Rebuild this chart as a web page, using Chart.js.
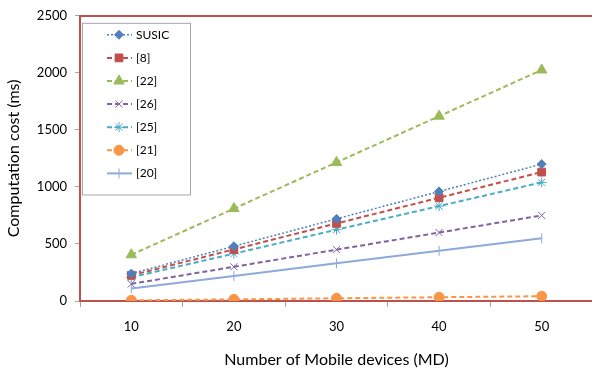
<!DOCTYPE html>
<html>
<head>
<meta charset="utf-8">
<script src="https://cdn.jsdelivr.net/npm/chart.js@4.4.1/dist/chart.umd.min.js"></script>
<style>
  html, body { margin: 0; padding: 0; overflow: hidden; background: #fff; }
  #wrap { width: 600px; height: 373px; }
</style>
</head>
<body>
<div id="wrap"><canvas id="chart_cost" width="600" height="373"></canvas></div>
<script>
// categories (number of mobile devices)
var devices = ['10', '20', '30', '40', '50'];

// computation cost (ms) per scheme
var susic = [240, 480, 720, 960, 1200];
var ref8  = [225, 452, 680, 905, 1130];
var ref22 = [405, 810, 1215, 1620, 2025];
var ref26 = [150, 300, 450, 600, 750];
var ref25 = [208, 415, 625, 832, 1040];
var ref21 = [6, 14, 24, 33, 42];
var ref20 = [110, 220, 330, 440, 550];

var yTicks = [0, 500, 1000, 1500, 2000, 2500];

var FONT = 'Lato, "Open Sans", sans-serif';
var FRAME = '#c0504d';

function series(label, data, color, style, radius, dash, width, rotation) {
    return {
        label: label,
        data: data,
        borderColor: color,
        backgroundColor: color,
        borderWidth: width,
        borderDash: dash,
        pointStyle: style,
        pointRadius: radius,
        pointRotation: rotation || 0,
        pointBorderWidth: 1,
        pointHoverRadius: radius,
        tension: 0,
        fill: false
    };
}

// legend box drawn inside the plot, like the Excel original
var boxLegend = {
    id: 'boxLegend',
    afterDatasetsDraw: (chart) => {
        const ctx = chart.ctx;
        const area = chart.chartArea;
        const x0 = area.left + 2, y0 = area.top + 7;
        const w = 108, step = 23.1;
        const sets = chart.data.datasets;
        const h = sets.length * step + 10;
        ctx.save();
        ctx.fillStyle = '#fff';
        ctx.fillRect(x0, y0, w, h);
        ctx.strokeStyle = '#a6a6a6';
        ctx.lineWidth = 1;
        ctx.strokeRect(x0 + 0.5, y0 + 0.5, w, h);
        sets.forEach((ds, i) => {
            const y = y0 + 12 + i * step;
            ctx.strokeStyle = ds.borderColor;
            ctx.lineWidth = ds.borderWidth;
            ctx.setLineDash(ds.borderDash || []);
            ctx.beginPath();
            ctx.moveTo(x0 + 25, y);
            ctx.lineTo(x0 + 50, y);
            ctx.stroke();
            ctx.setLineDash([]);
            ctx.fillStyle = ds.backgroundColor;
            ctx.strokeStyle = ds.borderColor;
            ctx.lineWidth = 1;
            Chart.helpers.drawPoint(ctx, {
                pointStyle: ds.pointStyle,
                radius: ds.pointRadius,
                rotation: ds.pointRotation,
                borderWidth: 1
            }, x0 + 37, y);
            ctx.fillStyle = '#000';
            ctx.font = '12px ' + FONT;
            ctx.textBaseline = 'middle';
            ctx.fillText(ds.label, x0 + 54, y);
        });
        ctx.restore();
    }
};

var chart_cost = new Chart(document.getElementById('chart_cost'), {
    type: 'line',
    data: {
        labels: devices,
        datasets: [
            series('SUSIC', susic, '#4f81bd', 'rectRot', 4.5, [2, 2], 1.5),
            series('[8]', ref8, '#c0504d', 'rect', 5.5, [5, 3], 2),
            series('[22]', ref22, '#9bbb59', 'triangle', 6, [5, 3], 2),
            series('[26]', ref26, '#8064a2', 'crossRot', 5, [5, 3], 2),
            series('[25]', ref25, '#4bacc6', 'star', 5, [5, 3], 2),
            series('[21]', ref21, '#f79646', 'circle', 5, [5, 3], 2),
            series('[20]', ref20, '#8eaad8', 'line', 5, [], 2, 90)
        ]
    },
    options: {
        animation: false,
        responsive: false,
        maintainAspectRatio: false,
        layout: { padding: { top: 14, right: 2, left: 0, bottom: 0 } },
        plugins: {
            legend: { display: false },
            tooltip: { enabled: false }
        },
        scales: {
            x: {
                offset: true,
                grid: {
                    offset: true,
                    drawOnChartArea: false,
                    drawTicks: true,
                    tickLength: 6,
                    color: '#a6a6a6'
                },
                border: { color: FRAME, width: 2 },
                ticks: {
                    color: '#000',
                    padding: 12,
                    font: { family: FONT, size: 13 }
                },
                title: {
                    display: true,
                    text: 'Number of Mobile devices (MD)',
                    color: '#000',
                    padding: { top: 8 },
                    font: { family: FONT, size: 16 }
                },
                afterFit: (scale) => { scale.height = 72; }
            },
            x2: {
                position: 'top',
                offset: true,
                grid: { display: false, drawTicks: false },
                border: { display: true, color: FRAME, width: 2 },
                ticks: { display: false },
                afterFit: (scale) => { scale.height = 0; }
            },
            y: {
                min: 0,
                max: 2500,
                afterBuildTicks: (scale) => {
                    scale.ticks = yTicks.map((v) => ({ value: v }));
                },
                grid: {
                    drawOnChartArea: false,
                    drawTicks: true,
                    tickLength: 5,
                    color: '#a6a6a6'
                },
                border: { color: FRAME, width: 2 },
                ticks: {
                    color: '#000',
                    padding: 8,
                    font: { family: FONT, size: 13 },
                    callback: (v) => String(v)
                },
                title: {
                    display: true,
                    text: 'Computation cost (ms)',
                    color: '#000',
                    padding: { bottom: 4 },
                    font: { family: FONT, size: 16 }
                },
                afterFit: (scale) => { scale.width = 80; }
            }
        }
    },
    plugins: [boxLegend, {
        id: 'whiteBg',
        beforeDraw: (chart) => {
            const ctx = chart.canvas.getContext('2d');
            ctx.save();
            ctx.globalCompositeOperation = 'destination-over';
            ctx.fillStyle = 'white';
            ctx.fillRect(0, 0, chart.canvas.width, chart.canvas.height);
            ctx.restore();
        }
    }]
});
</script>
</body>
</html>
